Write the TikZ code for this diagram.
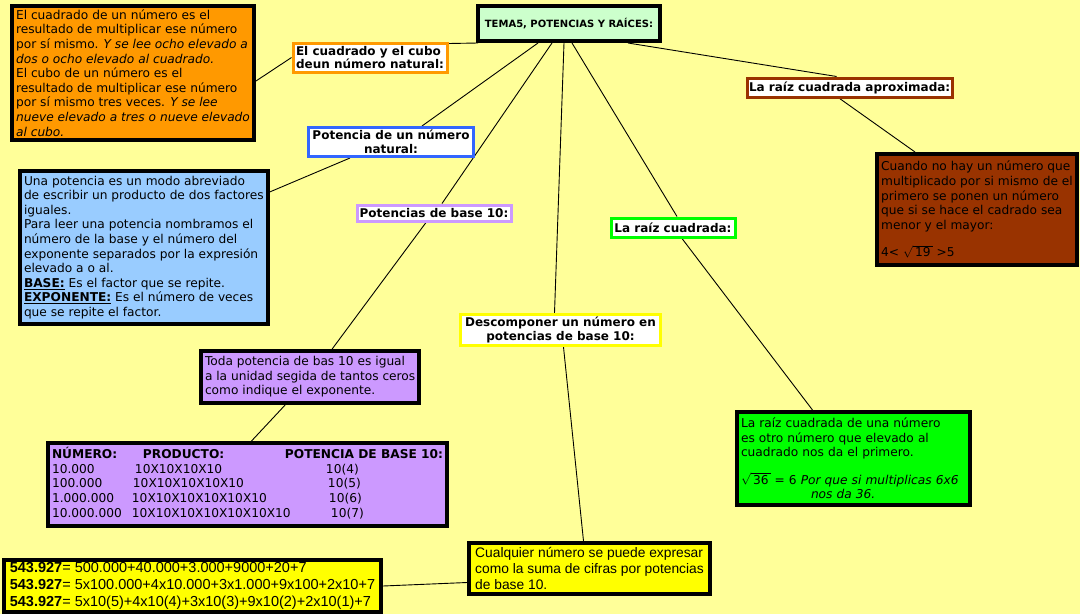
\documentclass[tikz,border=0pt]{standalone}
\usepackage{fontspec}
\setmainfont{DejaVu Sans}
\newfontfamily\narrowfont{Liberation Sans}
\usepackage{xcolor}
\usepackage{tikz}
\usetikzlibrary{positioning,backgrounds,calc}

\definecolor{fondo}{HTML}{FFFF99}
\definecolor{naranja}{HTML}{FF9900}
\definecolor{menta}{HTML}{CCFFCC}
\definecolor{marron}{HTML}{993300}
\definecolor{celeste}{HTML}{99CCFF}
\definecolor{azul}{HTML}{3366FF}
\definecolor{lila}{HTML}{CC99FF}
\definecolor{verde}{HTML}{00FF00}
\definecolor{amarillo}{HTML}{FFFF00}

\newcommand{\raiz}[1]{$\sqrt{\mbox{\,#1\,}}$}

\begin{document}
\begin{tikzpicture}[x=1pt, y=-1pt,
    bigbox/.style={draw=black, line width=4pt, anchor=north west, align=left, inner xsep=4pt, inner ysep=2pt, font=\fontsize{12.2}{14.6}\selectfont},
    tagbox/.style={line width=3pt, fill=white, anchor=north west, align=center, inner sep=2pt, font=\fontsize{12}{13.5}\selectfont\bfseries},
    link/.style={draw=black, line width=0.9pt}
]
    \useasboundingbox (0,0) rectangle (1080,614);

    % Title
    \node[bigbox, fill=menta, minimum width=182pt, minimum height=35pt, align=center, font=\fontsize{10}{12}\selectfont\bfseries] (tema) at (476,4) {TEMA5, POTENCIAS Y RAÍCES:};

    % Square and cube
    \node[tagbox, draw=naranja, minimum width=154pt, minimum height=29pt, align=left] (cuadtag) at (291.5,41.5) {El cuadrado y el cubo\\deun número natural:};
    \node[bigbox, fill=naranja, minimum width=242pt, minimum height=134pt] (cuadbox) at (10,4) {El cuadrado de un número es el\\resultado de multiplicar ese número\\por sí mismo. \textit{Y se lee ocho elevado a}\\\textit{dos o ocho elevado al cuadrado.}\\El cubo de un número es el\\resultado de multiplicar ese número\\por sí mismo tres veces. \textit{Y se lee}\\\textit{nueve elevado a tres o nueve elevado}\\\textit{al cubo.}};

    % Power of a natural number
    \node[tagbox, draw=azul, minimum width=165pt, minimum height=29pt] (potag) at (307,126) {Potencia de un número\\natural:};
    \node[bigbox, fill=celeste, minimum width=247pt, minimum height=153pt] (potbox) at (18,169) {Una potencia es un modo abreviado\\de escribir un producto de dos factores\\iguales.\\Para leer una potencia nombramos el\\número de la base y el número del\\exponente separados por la expresión\\elevado a o al.\\\underline{\textbf{BASE:}} Es el factor que se repite.\\\underline{\textbf{EXPONENTE:}} Es el número de veces\\que se repite el factor.};

    % Powers of ten
    \node[tagbox, draw=lila, minimum width=154pt, minimum height=16pt] (b10tag) at (355.5,203.5) {Potencias de base 10:};
    \node[bigbox, fill=lila, minimum width=217pt, minimum height=52pt] (b10box) at (199,349) {Toda potencia de bas 10 es igual\\a la unidad segida de tantos ceros\\como indique el exponente.};
    \node[bigbox, fill=lila, minimum width=399pt, minimum height=83pt] (tabla) at (46,441) {%
        \begin{tabular}{@{}p{80pt}@{}p{153pt}@{}l@{}}
        \textbf{NÚMERO:} & \hspace*{11pt}\textbf{PRODUCTO:} & \textbf{POTENCIA DE BASE 10:}\\
        10.000 & \hspace*{3pt}10X10X10X10 & \hspace*{41pt}10(4)\\
        100.000 & \hspace*{1pt}10X10X10X10X10 & \hspace*{43pt}10(5)\\
        1.000.000 & 10X10X10X10X10X10 & \hspace*{44pt}10(6)\\
        10.000.000 & 10X10X10X10X10X10X10 & \hspace*{46pt}10(7)
        \end{tabular}};

    % Decomposition
    \node[tagbox, draw=amarillo, minimum width=200pt, minimum height=31pt] (desctag) at (459,313) {Descomponer un número en\\potencias de base 10:};
    \node[bigbox, fill=amarillo, minimum width=241pt, minimum height=51pt, inner xsep=3pt, font=\narrowfont\fontsize{13.8}{16}\selectfont] (sumbox) at (467,541) {Cualquier número se puede expresar\\como la suma de cifras por potencias\\de base 10.};
    \node[bigbox, fill=amarillo, minimum width=377pt, minimum height=52pt, inner xsep=2pt, font=\narrowfont\fontsize{14.5}{17}\selectfont] (ejbox) at (2,558) {\textbf{543.927}= 500.000+40.000+3.000+9000+20+7\\\textbf{543.927}= 5x100.000+4x10.000+3x1.000+9x100+2x10+7\\\textbf{543.927}= 5x10(5)+4x10(4)+3x10(3)+9x10(2)+2x10(1)+7};

    % Square root
    \node[tagbox, draw=verde, minimum width=124pt, minimum height=19pt] (raiztag) at (609.5,216.5) {La raíz cuadrada:};
    \node[bigbox, fill=verde, minimum width=233pt, minimum height=93pt, text width=225pt] (raizbox) at (735,410) {La raíz cuadrada de una número\\es otro número que elevado al\\cuadrado nos da el primero.\\[13pt]\raiz{36} = 6 \textit{Por que si multiplicas 6x6}\\\hspace*{70pt}\textit{nos da 36.}};

    % Approximate square root
    \node[tagbox, draw=marron, minimum width=205pt, minimum height=19pt] (aproxtag) at (745.5,76.5) {La raíz cuadrada aproximada:};
    \node[bigbox, fill=marron, minimum width=200pt, minimum height=111pt] (aproxbox) at (875,152) {Cuando no hay un número que\\multiplicado por si mismo de el\\primero se ponen un número\\que si se hace el cadrado sea\\menor y el mayor:\\[13pt]4< \raiz{19} >5};

    % Connectors
    \begin{scope}[on background layer]
        \fill[fondo] (0,0) rectangle (1080,614);
        \draw[link] ([xshift=2pt]tema.south west) -- ([yshift=-2pt]cuadtag.north east);
        \draw[link] ([yshift=-8pt]cuadbox.east) -- (cuadtag.west);
        \draw[link] ([xshift=62pt]tema.south west) -- ([xshift=31pt]potag.north);
        \draw[link] ([xshift=-41pt]potag.south) -- ([yshift=-23pt]potbox.north east);
        \draw[link] ([xshift=76pt]tema.south west) -- ([xshift=8pt]b10tag.north);
        \draw[link] ([xshift=-8pt]b10tag.south) -- ([xshift=22pt]b10box.north);
        \draw[link] ([xshift=-25pt]b10box.south) -- ([xshift=4pt]tabla.north);
        \draw[link] ([xshift=88pt]tema.south west) -- ([xshift=-6pt]desctag.north);
        \draw[link] ([xshift=3pt]desctag.south) -- ([xshift=-6pt]sumbox.north);
        \draw[link] ([yshift=-14pt]sumbox.west) -- (ejbox.east);
        \draw[link] ([xshift=96pt]tema.south west) -- ([xshift=4pt]raiztag.north);
        \draw[link] ([xshift=9pt]raiztag.south) -- ([xshift=-41pt]raizbox.north);
        \draw[link] ([xshift=152pt]tema.south west) -- ([xshift=-13pt]aproxtag.north);
        \draw[link] ([xshift=-10pt]aproxtag.south) -- ([xshift=-62pt]aproxbox.north);
    \end{scope}
\end{tikzpicture}
\end{document}
